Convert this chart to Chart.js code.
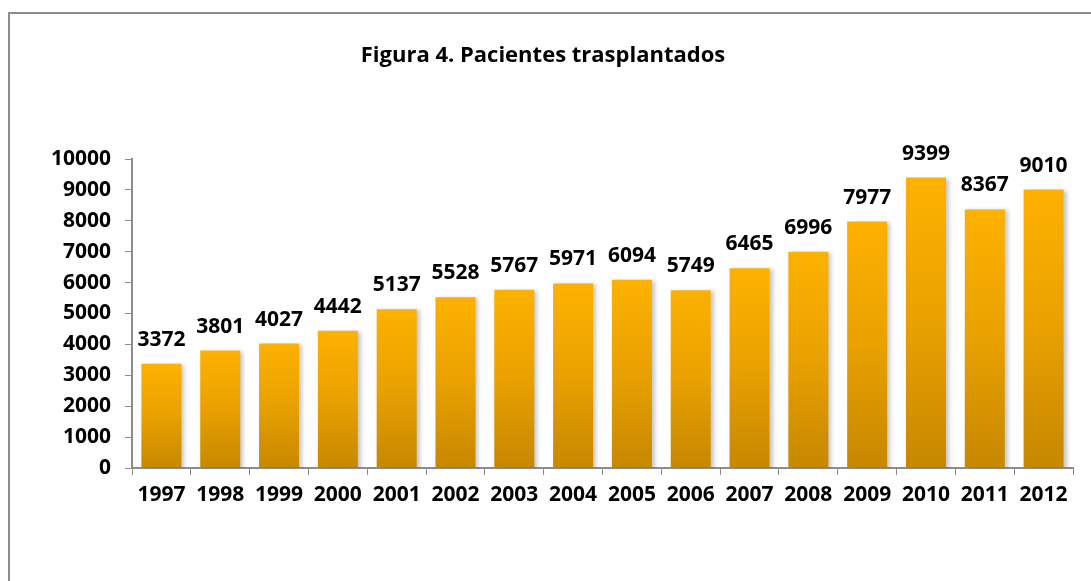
<!DOCTYPE html>
<html>
<head>
<meta charset="utf-8">
<script src="https://cdn.jsdelivr.net/npm/chart.js@4"></script>
<style>
  html, body { margin: 0; padding: 0; background: #fff; }
  #wrap { width: 1091px; height: 581px; position: relative; }
</style>
</head>
<body>
<div id="wrap"><canvas id="chart"></canvas></div>
<script>
// data
const years = ["1997","1998","1999","2000","2001","2002","2003","2004",
               "2005","2006","2007","2008","2009","2010","2011","2012"];
const patients = [3372, 3801, 4027, 4442, 5137, 5528, 5767, 5971,
                  6094, 5749, 6465, 6996, 7977, 9399, 8367, 9010];
const titleText = "Figura 4. Pacientes trasplantados";

const FONT = "'Open Sans', 'Noto Sans', sans-serif";
const AXIS = "#8c8c8c";

// per-bar vertical gradient, bright on top, darker at the base
function barFill(c) {
  const chart = c.chart;
  if (!chart.chartArea || c.dataIndex === undefined) return "#e8a200";
  const y = chart.scales.y;
  const top = y.getPixelForValue(patients[c.dataIndex]);
  const bot = y.getPixelForValue(0);
  const g = chart.ctx.createLinearGradient(0, top, 0, bot);
  g.addColorStop(0, "#fdb100");
  g.addColorStop(0.5, "#e9a100");
  g.addColorStop(1, "#c68800");
  return g;
}

// outer frame + title
const framePlugin = {
  id: "frame",
  beforeDraw(chart) {
    const ctx = chart.ctx;
    ctx.save();
    ctx.strokeStyle = AXIS;
    ctx.lineWidth = 2;
    ctx.strokeRect(9, 13, 1200, 800);
    ctx.fillStyle = "#000";
    ctx.font = "bold 22px " + FONT;
    ctx.textAlign = "center";
    ctx.textBaseline = "middle";
    ctx.fillText(titleText, 543, 56);
    ctx.restore();
  },
  beforeDatasetsDraw(chart) {
    const ctx = chart.ctx;
    ctx.save();
    ctx.shadowColor = "rgba(0,0,0,0.22)";
    ctx.shadowBlur = 4;
    ctx.shadowOffsetX = 3;
    ctx.shadowOffsetY = 1;
  },
  afterDatasetsDraw(chart) {
    chart.ctx.restore();
    // value labels above each bar
    const ctx = chart.ctx;
    const meta = chart.getDatasetMeta(0);
    ctx.save();
    ctx.fillStyle = "#000";
    ctx.font = "bold 21px " + FONT;
    ctx.textAlign = "center";
    ctx.textBaseline = "alphabetic";
    meta.data.forEach((bar, i) => {
      ctx.fillText(String(patients[i]), bar.x, bar.y - 18);
    });
    ctx.restore();
  }
};

new Chart(document.getElementById("chart"), {
  type: "bar",
  data: {
    labels: years,
    datasets: [{
      data: patients,
      backgroundColor: barFill,
      borderWidth: 0,
      barPercentage: 0.68,
      categoryPercentage: 1
    }]
  },
  options: {
    responsive: true,
    maintainAspectRatio: false,
    animation: false,
    layout: { padding: { left: 0, top: 159, right: 18, bottom: 0 } },
    plugins: { legend: { display: false }, tooltip: { enabled: false } },
    scales: {
      x: {
        grid: { drawOnChartArea: false, drawTicks: true, tickLength: 7, color: AXIS, offset: true },
        border: { color: AXIS, width: 2 },
        ticks: { color: "#000", font: { family: FONT, size: 21, weight: "bold" }, padding: 7, maxRotation: 0, autoSkip: false },
        afterFit(s) { s.height = 581 - 468; }
      },
      y: {
        min: 0, max: 10000,
        grid: { drawOnChartArea: false, drawTicks: true, tickLength: 7, color: AXIS },
        border: { color: AXIS, width: 2 },
        ticks: { stepSize: 1000, color: "#000", font: { family: FONT, size: 21, weight: "bold" }, padding: 14,
                 callback: (v) => String(v) },
        afterFit(s) { s.width = 132; }
      }
    }
  },
  plugins: [framePlugin]
});
</script>
</body>
</html>
